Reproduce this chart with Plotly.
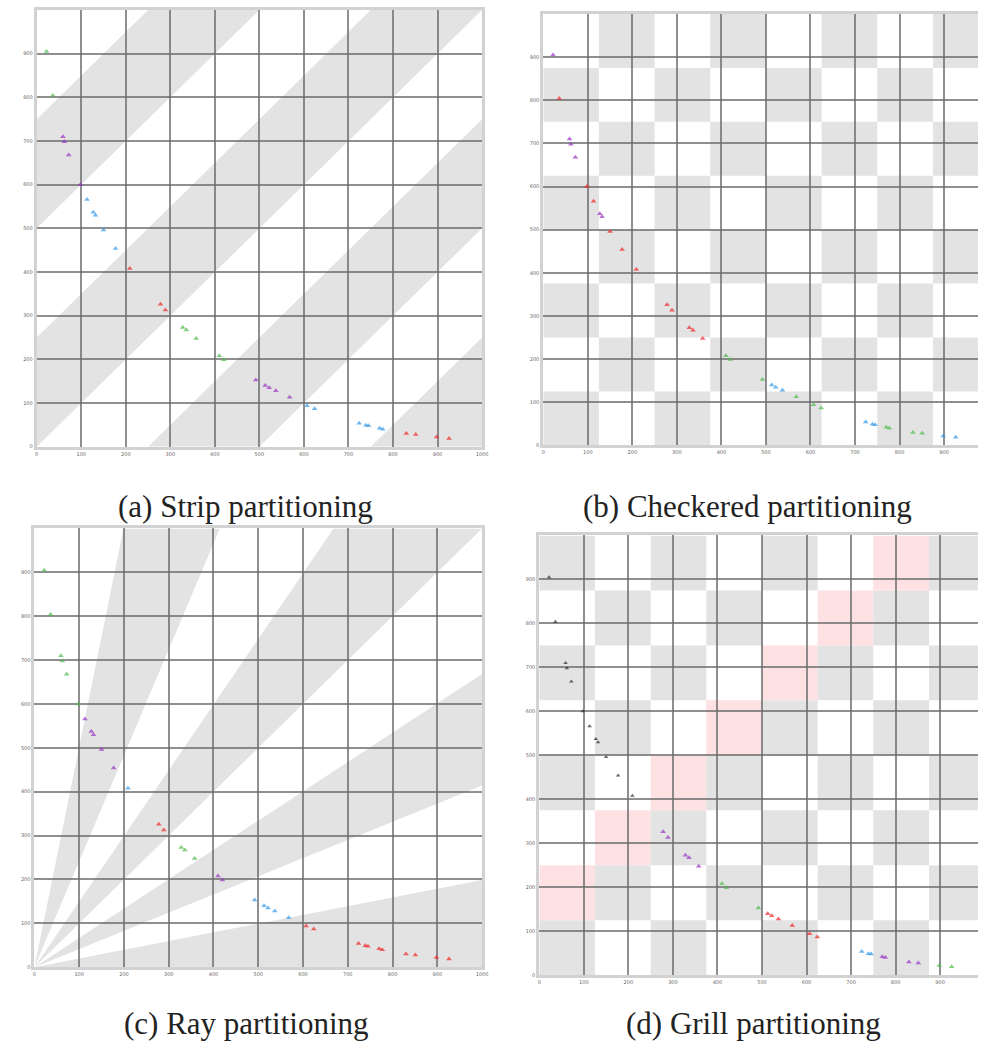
import math
import plotly.graph_objects as go

# Sample points (same point set shown under four partitioning schemes)
x_vals = [22, 36, 59, 62, 72, 98, 113, 127, 132, 150, 177, 209, 278, 289, 328, 336,
          358, 410, 420, 492, 513, 522, 537, 568, 607, 624, 724, 739, 745, 770, 777,
          830, 851, 898, 926]
y_vals = [905, 804, 710, 698, 668, 600, 566, 537, 530, 496, 454, 408, 326, 313, 273, 267,
          248, 208, 199, 153, 140, 135, 128, 113, 94, 87, 54, 49, 48, 42, 40,
          30, 28, 22, 19]

# Partition colour of every point in each scheme
strip_groups = list("GGPPPPBBBBBRRRGGGGGPPPPPBBBBBBBRRRR")
checker_groups = list("PRPPPRRPPRRRRRRRRGGGBBBGGGBBBGGGGBB")
ray_groups = list("GGGGGGPPPPPBRRGGGPPBBBBBRRRRRRRRRRR")
grill_groups = list("KKKKKKKKKKKKPPPPPGGGRRRRRRBBBPPPPGG")

captions = ["(a) Strip partitioning", "(b) Checkered partitioning",
            "(c) Ray partitioning", "(d) Grill partitioning"]

x_ticks = list(range(0, 1001, 100))
y_ticks = list(range(0, 901, 100))

palette = {"G": "#4dba4d", "P": "#9a32c4", "B": "#3398e8", "R": "#f02828", "K": "#2a2a2a"}
GRAY = "#e3e3e3"
PINK = "#fde1e3"

W, H = 984, 1048
# subplot rectangles in pixels: left, right, top, bottom
panels = [
    (35, 484, 10, 448),
    (545.7, 984, 14, 446.7),
    (32.7, 484, 530, 970),
    (541.7, 984, 537, 978),
]
PX_PER_UNIT = 0.449


def clip_poly(poly, lo=0.0, hi=1000.0):
    """Sutherland-Hodgman clip of a polygon to the square [lo, hi]^2."""
    def clip_edge(pts, inside, inter):
        out = []
        n = len(pts)
        for i in range(n):
            cur, prev = pts[i], pts[i - 1]
            if inside(cur):
                if not inside(prev):
                    out.append(inter(prev, cur))
                out.append(cur)
            elif inside(prev):
                out.append(inter(prev, cur))
        return out

    def ix(p, q, xv):
        t = (xv - p[0]) / (q[0] - p[0])
        return (xv, p[1] + t * (q[1] - p[1]))

    def iy(p, q, yv):
        t = (yv - p[1]) / (q[1] - p[1])
        return (p[0] + t * (q[0] - p[0]), yv)

    pts = poly
    pts = clip_edge(pts, lambda p: p[0] >= lo, lambda p, q: ix(p, q, lo))
    if pts:
        pts = clip_edge(pts, lambda p: p[0] <= hi, lambda p, q: ix(p, q, hi))
    if pts:
        pts = clip_edge(pts, lambda p: p[1] >= lo, lambda p, q: iy(p, q, lo))
    if pts:
        pts = clip_edge(pts, lambda p: p[1] <= hi, lambda p, q: iy(p, q, hi))
    return pts


def path_of(pts):
    return "M " + " L ".join(f"{x:.2f},{y:.2f}" for x, y in pts) + " Z"


shapes = []


def add_poly(pts, color, n):
    pts = clip_poly(pts)
    if len(pts) >= 3:
        shapes.append(dict(type="path", path=path_of(pts), xref=f"x{n}", yref=f"y{n}",
                           fillcolor=color, line=dict(width=0), layer="below"))


def add_rect(x0, y0, x1, y1, color, n):
    shapes.append(dict(type="rect", x0=x0, y0=y0, x1=x1, y1=y1, xref=f"x{n}", yref=f"y{n}",
                       fillcolor=color, line=dict(width=0), layer="below"))


# (a) diagonal strips y = x + c, width 250
for k in range(-4, 4):
    if k % 2 == 0:
        c0, c1 = 250 * k, 250 * (k + 1)
        add_poly([(-2000, -2000 + c0), (3000, 3000 + c0), (3000, 3000 + c1), (-2000, -2000 + c1)], GRAY, 1)

# (b) checkerboard of 125-unit cells
for i in range(8):
    for j in range(8):
        if (i + j) % 2 == 0:
            add_rect(i * 125, j * 125, (i + 1) * 125, (j + 1) * 125, GRAY, 2)

# (c) rays from the origin, 8 sectors of 11.25 degrees
R = 5000
for j in range(8):
    if j % 2 == 0:
        a0, a1 = j * math.pi / 16, (j + 1) * math.pi / 16
        add_poly([(0, 0), (R * math.cos(a0), R * math.sin(a0)), (R * math.cos(a1), R * math.sin(a1))], GRAY, 3)

# (d) grill: checkerboard flipped across a pink diagonal of cells
for i in range(8):
    for j in range(8):
        s = i + (7 - j)
        if s == 6:
            add_rect(i * 125, j * 125, (i + 1) * 125, (j + 1) * 125, PINK, 4)
        elif (s < 6 and s % 2 == 0) or (s > 6 and s % 2 == 1):
            add_rect(i * 125, j * 125, (i + 1) * 125, (j + 1) * 125, GRAY, 4)

fig = go.Figure()
group_sets = [strip_groups, checker_groups, ray_groups, grill_groups]

layout = dict(width=W, height=H, margin=dict(l=0, r=0, t=0, b=0),
              paper_bgcolor="white", plot_bgcolor="white", showlegend=False)

for n, ((left, right, top, bottom), groups) in enumerate(zip(panels, group_sets), start=1):
    xmax = (right - left) / PX_PER_UNIT
    full = right < W - 1
    colors = [palette[g] for g in groups]
    sizes = [4 if g == "K" else 5 for g in groups]
    fig.add_trace(go.Scatter(
        x=x_vals, y=y_vals, mode="markers", xaxis=f"x{n}", yaxis=f"y{n}",
        marker=dict(symbol="triangle-up", size=sizes, color=colors, line=dict(width=0)),
        hoverinfo="skip"))
    axis_common = dict(showgrid=True, gridcolor="rgba(105,105,105,0.75)", gridwidth=2,
                       zeroline=False, showline=True, linecolor="#d2d2d2", linewidth=3,
                       ticks="", tickfont=dict(size=5, color="#666666", family="DejaVu Sans"),
                       fixedrange=True)
    layout[f"xaxis{n}"] = dict(axis_common, domain=[left / W, min(right / W, 1.0)],
                               range=[0, min(1000, xmax)] if not full else [0, 1000],
                               tickvals=x_ticks, ticktext=[str(v) for v in x_ticks],
                               anchor=f"y{n}", mirror=True)
    layout[f"yaxis{n}"] = dict(axis_common, domain=[1 - bottom / H, 1 - top / H],
                               range=[0, 1000], tickvals=y_ticks,
                               ticktext=[str(v) for v in y_ticks],
                               anchor=f"x{n}", mirror=full)

cap_pos = [(245, 508), (752, 508), (246, 1026), (758, 1026)]
annotations = [dict(text=t, x=cx / W, y=1 - cy / H, xref="paper", yref="paper",
                    showarrow=False, xanchor="center", yanchor="middle",
                    font=dict(family="Liberation Serif", size=31, color="#222222"))
               for t, (cx, cy) in zip(captions, cap_pos)]

layout["shapes"] = shapes
layout["annotations"] = annotations
fig.update_layout(**layout)
fig.write_html("out.html")
